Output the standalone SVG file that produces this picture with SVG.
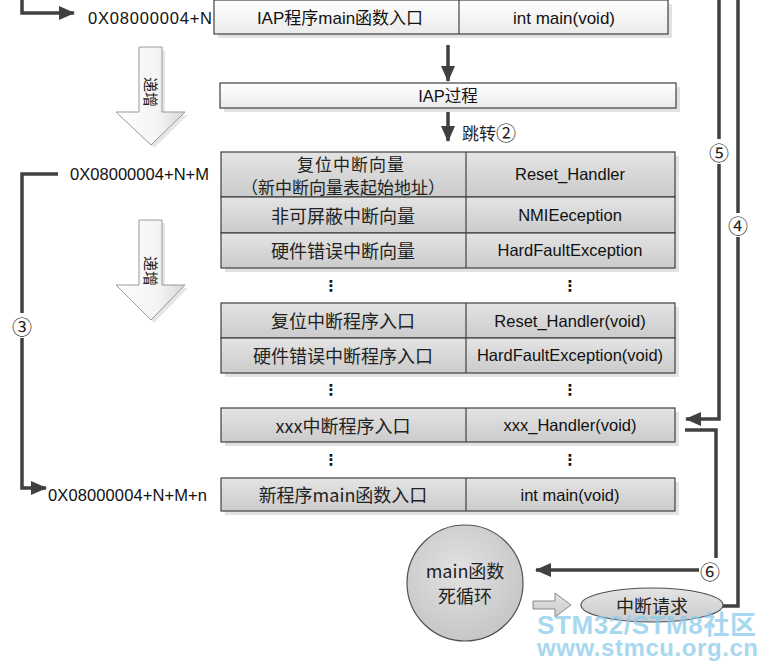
<svg xmlns="http://www.w3.org/2000/svg" width="767" height="667" viewBox="0 0 767 667">
<style>
.t{font-family:"Liberation Sans","Noto Sans CJK SC",sans-serif;font-size:16.5px;fill:#111;text-anchor:middle;dominant-baseline:central}
.c{font-family:"Noto Sans CJK SC","Liberation Sans",sans-serif;font-size:18px;fill:#222;text-anchor:middle;dominant-baseline:central}
.box{stroke:#404040;stroke-width:1.2}
.g{fill:url(#gray)}
.w{fill:url(#white)}
.sh{fill:#e2e2e2}
.ln{fill:none;stroke:#404040;stroke-width:3.5}
.dot{font-family:"DejaVu Sans",sans-serif;font-size:15px;font-weight:bold;fill:#111;text-anchor:middle;dominant-baseline:central}
.num{font-family:"Noto Sans CJK SC","DejaVu Sans",sans-serif;font-size:20px;fill:#222;text-anchor:middle;dominant-baseline:central}
</style>
<defs>
<linearGradient id="gray" x1="0" y1="0" x2="0" y2="1"><stop offset="0" stop-color="#e4e4e4"/><stop offset="1" stop-color="#cbcbcb"/></linearGradient>
<linearGradient id="white" x1="0" y1="0" x2="0" y2="1"><stop offset="0" stop-color="#ffffff"/><stop offset="1" stop-color="#ebebeb"/></linearGradient>
<linearGradient id="barrow" x1="0" y1="0" x2="1" y2="0"><stop offset="0" stop-color="#ffffff"/><stop offset="0.6" stop-color="#f4f4f4"/><stop offset="1" stop-color="#d8d8d8"/></linearGradient>
<radialGradient id="round" cx="0.45" cy="0.4" r="0.65"><stop offset="0" stop-color="#e2e2e2"/><stop offset="1" stop-color="#c4c4c4"/></radialGradient>
<marker id="ah" markerUnits="userSpaceOnUse" markerWidth="16" markerHeight="14" refX="15" refY="7" orient="auto"><path d="M0,0 L16,7 L0,14 Z" fill="#404040"/></marker>
</defs>

<!-- connectors -->
<g id="connectors">
<path class="ln" d="M22,0 V13 H74" marker-end="url(#ah)"/>
<path class="ln" d="M448,45 V81" marker-end="url(#ah)"/>
<path class="ln" d="M448,109 V141" marker-end="url(#ah)"/>
<path class="ln" d="M58,174 H22 V313"/>
<path class="ln" d="M22,338 V488 H46" marker-end="url(#ah)"/>
<path class="ln" d="M719,0 V139"/>
<path class="ln" d="M719,164 V419 H686" marker-end="url(#ah)"/>
<path class="ln" d="M738,0 V213"/>
<path class="ln" d="M738,237 V606 H722"/>
<path class="ln" d="M685,430 H716 V558"/>
<path class="ln" d="M699,570 H536" marker-end="url(#ah)"/>
<text class="num" x="22" y="326">③</text>
<text class="num" x="719" y="152">⑤</text>
<text class="num" x="738" y="225">④</text>
<text class="num" x="710" y="571">⑥</text>
<text class="c" x="462" y="132" style="text-anchor:start;font-size:17px">跳转<tspan style="font-size:20px">②</tspan></text>
</g>

<!-- increment arrows -->
<g id="inc1">
<polygon points="142,50 165,50 165,115 188,115 154,148 119,115 142,115" fill="#e6e6e6"/>
<polygon points="139,47 162,47 162,112 185,112 151,145 116,112 139,112" fill="url(#barrow)" stroke="#999" stroke-width="1"/>
<text class="c" x="0" y="0" transform="translate(151,92) rotate(90)" style="font-size:15px">递增</text>
</g>
<g id="inc2">
<polygon points="142,223 165,223 165,288 188,288 154,323 119,288 142,288" fill="#e6e6e6"/>
<polygon points="139,220 162,220 162,285 185,285 151,320 116,285 139,285" fill="url(#barrow)" stroke="#999" stroke-width="1"/>
<text class="c" x="0" y="0" transform="translate(151,271) rotate(90)" style="font-size:15px">递增</text>
</g>

<!-- addresses -->
<g id="addr">
<text class="t" x="88" y="18" style="text-anchor:start" textLength="124">0X08000004+N</text>
<text class="t" x="70" y="174" style="text-anchor:start" textLength="139">0X08000004+N+M</text>
<text class="t" x="48" y="495" style="text-anchor:start" textLength="159">0X08000004+N+M+n</text>
</g>

<!-- IAP main -->
<g id="iap-main">
<rect class="sh" x="218" y="4" width="454" height="34"/>
<rect class="box w" x="214" y="0" width="454" height="34"/>
<line class="box" x1="459" y1="0" x2="459" y2="34"/>
<text class="t" x="340" y="18" style="font-size:17px">IAP程序main函数入口</text>
<text class="t" x="564" y="18" style="font-size:17px">int main(void)</text>
</g>

<g id="iap-process">
<rect class="sh" x="224" y="87" width="456" height="25"/>
<rect class="box w" x="220" y="83" width="456" height="25"/>
<text class="t" x="448" y="96">IAP过程</text>
</g>

<!-- vector table -->
<g id="vectors">
<rect class="sh" x="225" y="156" width="454" height="116"/>
<rect class="box g" x="221" y="152" width="454" height="45"/>
<rect class="box g" x="221" y="197" width="454" height="36"/>
<rect class="box g" x="221" y="233" width="454" height="35"/>
<line class="box" x1="466" y1="152" x2="466" y2="268"/>
<text class="c" x="351" y="163" style="letter-spacing:1px;font-size:17px">复位中断向量</text>
<text class="c" x="343" y="186" style="font-size:17px">（新中断向量表起始地址）</text>
<text class="t" x="570" y="174">Reset_Handler</text>
<text class="c" x="343" y="215">非可屏蔽中断向量</text>
<text class="t" x="570" y="215">NMIEeception</text>
<text class="c" x="343" y="250">硬件错误中断向量</text>
<text class="t" x="570" y="250">HardFaultException</text>
</g>
<text class="dot" x="331" y="286">⋮</text>
<text class="dot" x="570" y="286">⋮</text>

<g id="handlers">
<rect class="sh" x="225" y="307" width="454" height="70"/>
<rect class="box g" x="221" y="303" width="454" height="35"/>
<rect class="box g" x="221" y="338" width="454" height="35"/>
<line class="box" x1="466" y1="303" x2="466" y2="373"/>
<text class="c" x="343" y="320">复位中断程序入口</text>
<text class="t" x="570" y="321">Reset_Handler(void)</text>
<text class="c" x="343" y="355">硬件错误中断程序入口</text>
<text class="t" x="570" y="355">HardFaultException(void)</text>
</g>
<text class="dot" x="331" y="390">⋮</text>
<text class="dot" x="570" y="390">⋮</text>

<g id="xxx">
<rect class="sh" x="225" y="412" width="454" height="34"/>
<rect class="box g" x="221" y="408" width="454" height="34"/>
<line class="box" x1="466" y1="408" x2="466" y2="442"/>
<text class="c" x="343" y="425">xxx中断程序入口</text>
<text class="t" x="570" y="425">xxx_Handler(void)</text>
</g>
<text class="dot" x="331" y="460">⋮</text>
<text class="dot" x="570" y="460">⋮</text>

<g id="newmain">
<rect class="sh" x="225" y="482" width="454" height="33"/>
<rect class="box g" x="221" y="478" width="454" height="33"/>
<line class="box" x1="466" y1="478" x2="466" y2="511"/>
<text class="c" x="343" y="494">新程序main函数入口</text>
<text class="t" x="570" y="495">int main(void)</text>
</g>

<g id="loop">
<circle cx="465" cy="583" r="58" fill="url(#round)" stroke="#505050" stroke-width="1.2"/>
<text class="c" x="465" y="570">main函数</text>
<text class="c" x="465" y="595">死循环</text>
</g>

<g id="irq-arrow">
<polygon points="533,601 555,601 555,593 571,605 555,617 555,609 533,609" fill="url(#gray)" stroke="#888" stroke-width="1"/>
</g>

<g id="irq">
<ellipse cx="652" cy="605" rx="71" ry="17" fill="url(#gray)" stroke="#505050" stroke-width="1.2"/>
<text class="c" x="652" y="605">中断请求</text>
</g>

<g id="watermark" opacity="0.75">
<text x="537" y="634" textLength="219" style="font-family:'Liberation Sans','Noto Sans CJK SC',sans-serif;font-size:26px;font-weight:bold;fill:#8ccaec">STM32/STM8社区</text>
<text x="537" y="656" textLength="221" style="font-family:'Liberation Sans',sans-serif;font-size:24px;font-weight:bold;fill:#8ccaec">www.stmcu.org.cn</text>
</g>
</svg>
